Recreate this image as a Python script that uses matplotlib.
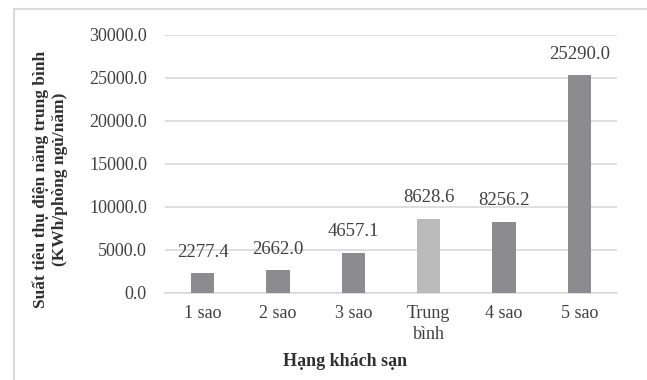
import matplotlib.pyplot as plt
from matplotlib.patches import Rectangle

categories = ["1 sao", "2 sao", "3 sao", "Trung\nbình", "4 sao", "5 sao"]
values = [2277.4, 2662.0, 4657.1, 8628.6, 8256.2, 25290.0]
yticks = [0, 5000, 10000, 15000, 20000, 25000, 30000]

plt.rcParams['font.family'] = ['Liberation Serif', 'DejaVu Serif']

fig = plt.figure(figsize=(6.47, 3.80), dpi=100)
ax = fig.add_axes([0.255, 0.229, 0.699, 0.679])

# light frame around the whole chart
fig.patches.append(Rectangle((14 / 647, -0.1), 1.2, 1.1 - 9 / 380,
                             transform=fig.transFigure, fill=False,
                             edgecolor="#d9d9d9", linewidth=1.5))

colors = ["#8c8c90"] * len(values)
colors[3] = "#bababa"
x = range(len(values))
bars = ax.bar(x, values, width=0.31, color=colors, zorder=3)

for b, v in zip(bars, values):
    ax.annotate(f"{v:.1f}", (b.get_x() + b.get_width() / 2, v),
                xytext=(0, 9), textcoords="offset points",
                ha="center", va="bottom", fontsize=13.5, color="#404040")

ax.set_xlim(-0.5, len(values) - 0.5)
ax.set_ylim(0, 30000)
ax.set_yticks(yticks)
ax.set_yticklabels([f"{t:.1f}" for t in yticks])
ax.set_xticks(list(x))
ax.set_xticklabels(categories, linespacing=1.3)
ax.tick_params(axis="y", length=0, pad=13, labelsize=13, labelcolor="#404040")
ax.tick_params(axis="x", length=0, pad=9, labelsize=13, labelcolor="#404040")
ax.grid(axis="y", color="#d9d9d9", linewidth=1.2, zorder=0)
for s in ["top", "right", "left"]:
    ax.spines[s].set_visible(False)
ax.spines["bottom"].set_color("#d9d9d9")
ax.spines["bottom"].set_linewidth(1.2)

fig.text(50 / 647, 1 - 179 / 380,
         "Suất tiêu thụ điện năng trung bình\n(KWh/phòng ngủ/năm)",
         rotation=90, ha="center", va="center", fontsize=12.5,
         fontweight="bold", color="#303030", linespacing=1.25)
fig.text(345 / 647, 1 - 361 / 380, "Hạng khách sạn", ha="center",
         va="center", fontsize=13, fontweight="bold", color="#303030")

fig.savefig("out.png", dpi=100)
